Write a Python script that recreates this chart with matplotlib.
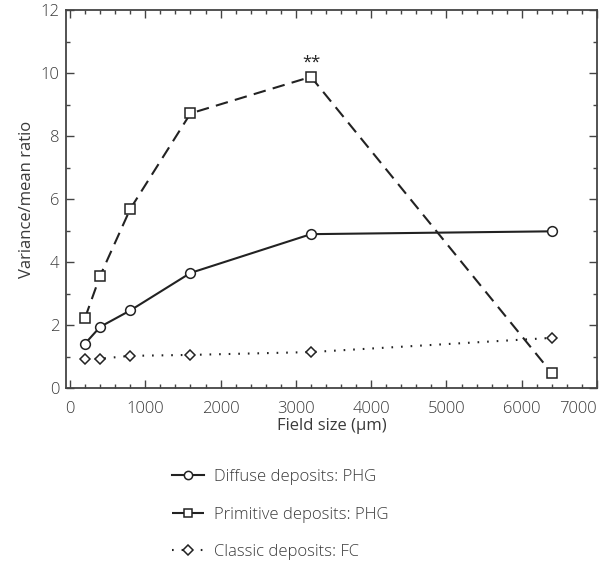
import matplotlib.pyplot as plt
from matplotlib.ticker import MultipleLocator

plt.rcParams.update({
    'font.family': ['Open Sans', 'DejaVu Sans'],
    'font.weight': 'light',
    'font.size': 12,
    'text.color': '#3a3a3a',
    'xtick.color': '#3a3a3a',
    'ytick.color': '#3a3a3a',
    'axes.labelcolor': '#3a3a3a',
})

# data
field_size = [200, 400, 800, 1600, 3200, 6400]
diffuse = [1.42, 1.95, 2.47, 3.66, 4.89, 4.98]
primitive = [2.24, 3.57, 5.69, 8.72, 9.88, 0.48]
classic = [0.92, 0.94, 1.03, 1.06, 1.15, 1.60]
x_ticks = [0, 1000, 2000, 3000, 4000, 5000, 6000, 7000]
y_ticks = [0, 2, 4, 6, 8, 10, 12]

fig = plt.figure(figsize=(6.08, 5.65), dpi=100)
ax = fig.add_axes([0.109, 0.3127, 0.873, 0.6696])

mk = dict(markerfacecolor='white', markeredgecolor='#222222', markeredgewidth=1.1)
ax.plot(field_size, diffuse, color='#222222', lw=1.5, ls='-', marker='o', markersize=7,
        label='Diffuse deposits: PHG', **mk)
ax.plot(field_size, primitive, color='#222222', lw=1.5, ls=(0, (6, 3.5)), marker='s',
        markersize=7, label='Primitive deposits: PHG', **mk)
ax.plot(field_size, classic, color='#222222', lw=1.5, ls=(0, (0.8, 3.8)), marker='D',
        markersize=5.5, label='Classic deposits: FC', **mk)

ax.annotate('**', (field_size[4], primitive[4]), xytext=(0, 10), textcoords='offset points',
            ha='center', va='center', fontsize=12, fontweight='normal', color='#222222')

ax.set_xlim(-50, 7000)
ax.set_ylim(0, 12)
ax.set_xticks(x_ticks)
ax.set_yticks(y_ticks)
ax.xaxis.set_minor_locator(MultipleLocator(200))
ax.yaxis.set_minor_locator(MultipleLocator(1))
ax.tick_params(which='both', direction='in', top=True, right=True, width=1.0, color='#444444')
ax.tick_params(which='major', length=5.5)
ax.tick_params(which='minor', length=3)
ax.tick_params(axis='x', which='major', pad=9)
ax.tick_params(axis='y', which='major', pad=5)
labels = ax.get_xticklabels()
labels[-1].set_horizontalalignment('right')
for s in ax.spines.values():
    s.set_linewidth(1.3)
    s.set_color('#444444')

ax.set_xlabel('Field size (µm)', labelpad=1)
ax.set_ylabel('Variance/mean ratio', labelpad=4)

fig.legend(loc='upper left', bbox_to_anchor=(0.283, 0.17), frameon=False,
           borderpad=0, borderaxespad=0, labelspacing=1.3, handlelength=1.9,
           handletextpad=0.6, numpoints=1, markerscale=0.85)

fig.savefig('out.png', dpi=100)
